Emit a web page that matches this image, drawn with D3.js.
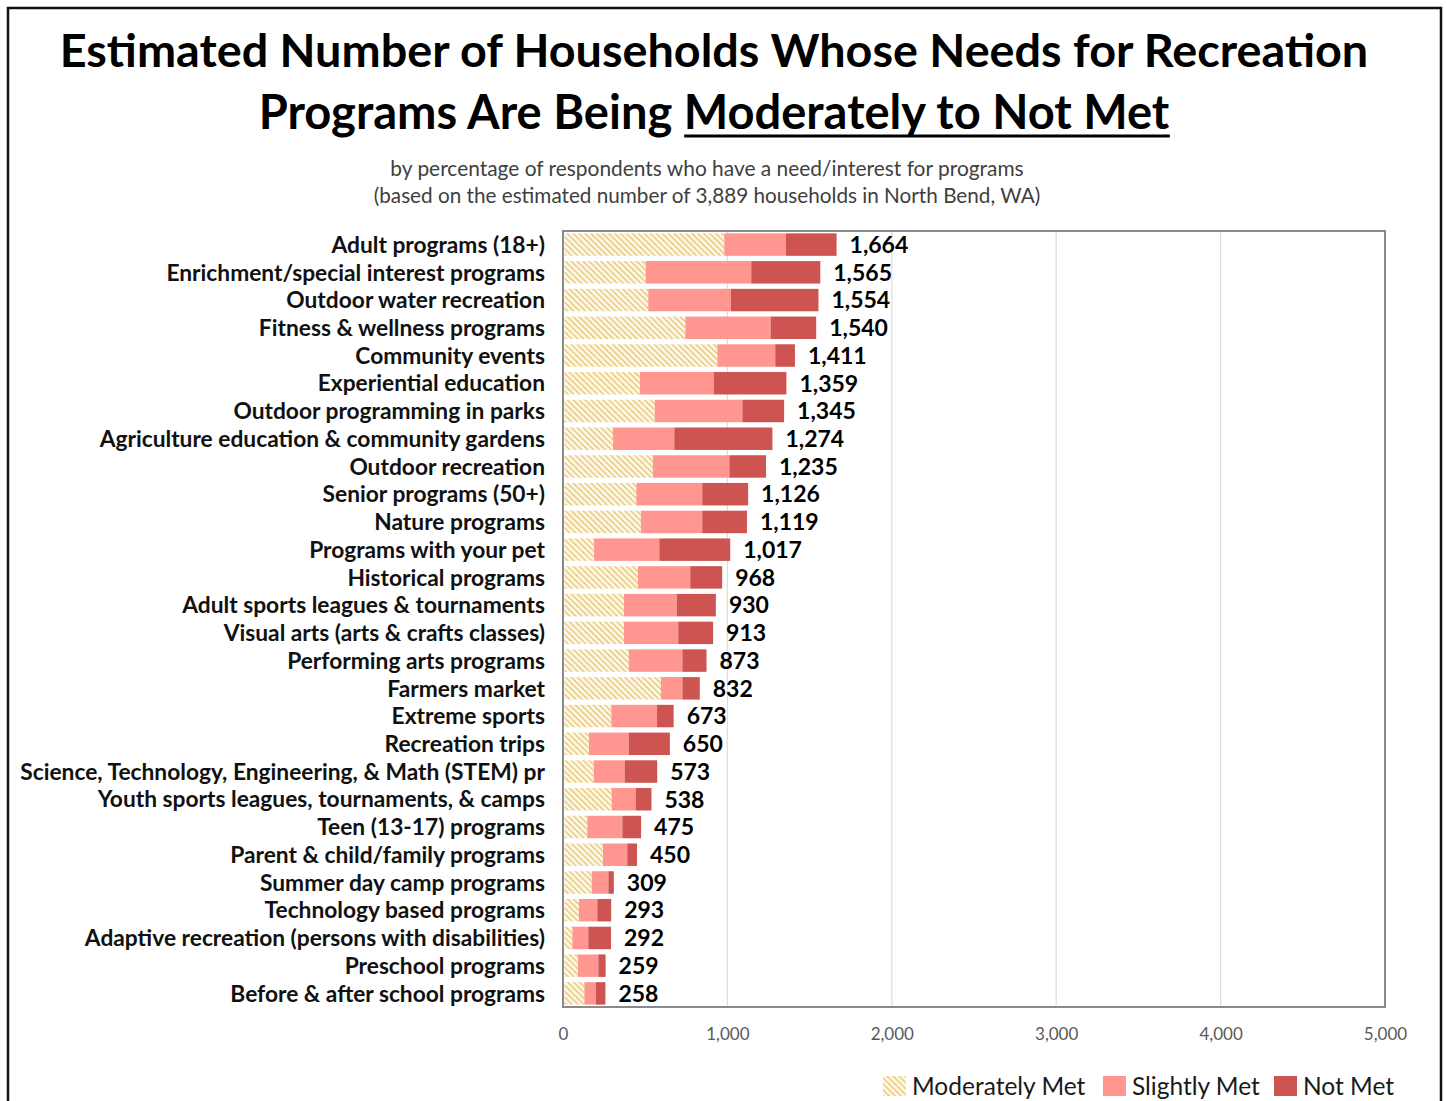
<!DOCTYPE html>
<html>
<head>
<meta charset="utf-8">
<script src="https://cdn.jsdelivr.net/npm/d3@7"></script>
<style>
  html, body { margin: 0; padding: 0; background: #fff; }
  svg { display: block; font-family: Lato, "Open Sans", sans-serif; }
</style>
</head>
<body>
<svg id="chart" width="1447" height="1101"></svg>
<script>
// Program categories, top to bottom
const categories = [
  "Adult programs (18+)",
  "Enrichment/special interest programs",
  "Outdoor water recreation",
  "Fitness & wellness programs",
  "Community events",
  "Experiential education",
  "Outdoor programming in parks",
  "Agriculture education & community gardens",
  "Outdoor recreation",
  "Senior programs (50+)",
  "Nature programs",
  "Programs with your pet",
  "Historical programs",
  "Adult sports leagues & tournaments",
  "Visual arts (arts & crafts classes)",
  "Performing arts programs",
  "Farmers market",
  "Extreme sports",
  "Recreation trips",
  "Science, Technology, Engineering, & Math (STEM) pr",
  "Youth sports leagues, tournaments, & camps",
  "Teen (13-17) programs",
  "Parent & child/family programs",
  "Summer day camp programs",
  "Technology based programs",
  "Adaptive recreation (persons with disabilities)",
  "Preschool programs",
  "Before & after school programs"
];

// Estimated households per level of need met
const moderatelyMet = [981, 503, 519, 744, 939, 468, 558, 304, 547, 446, 474, 189, 456, 371,
                       371, 401, 596, 294, 158, 187, 296, 148, 243, 175, 97, 57, 91, 130];
const slightlyMet   = [375, 642, 503, 519, 352, 449, 533, 373, 465, 401, 373, 397, 318, 321,
                       330, 325, 130, 278, 242, 188, 146, 213, 148, 101, 112, 97, 124, 69];
const notMet        = [308, 420, 532, 277, 120, 442, 254, 597, 223, 279, 272, 431, 194, 238,
                       212, 147, 106, 101, 250, 198, 96, 114, 59, 33, 84, 138, 44, 59];

const seriesNames = ["Moderately Met", "Slightly Met", "Not Met"];
const xTicks = [0, 1000, 2000, 3000, 4000, 5000];

const rows = categories.map((c, i) => ({
  category: c,
  "Moderately Met": moderatelyMet[i],
  "Slightly Met": slightlyMet[i],
  "Not Met": notMet[i]
}));

const svg = d3.select("#chart");
const fmt = d3.format(",");

// Hatched fill for the "moderately met" segment (lines running down to the right)
const defs = svg.append("defs");
const pat = defs.append("pattern")
  .attr("id", "hatch")
  .attr("patternUnits", "userSpaceOnUse")
  .attr("width", 4.2).attr("height", 4.2)
  .attr("patternTransform", "rotate(-45)");
pat.append("rect").attr("width", 4.2).attr("height", 4.2).attr("fill", "#fdf7e6");
pat.append("rect").attr("width", 1.6).attr("height", 4.2).attr("fill", "#ebcd85");

const fills = {
  "Moderately Met": "url(#hatch)",
  "Slightly Met": "#ff968f",
  "Not Met": "#cd5450"
};

// Scale font size of a text element so it spans a given width
function fitWidth(sel, width) {
  const node = sel.node();
  const fs = parseFloat(sel.attr("font-size"));
  const w = node.getComputedTextLength();
  sel.attr("font-size", fs * width / w);
}

// Outer frame
svg.append("rect")
  .attr("x", 8).attr("y", 8).attr("width", 1433).attr("height", 1110)
  .attr("fill", "none").attr("stroke", "#111").attr("stroke-width", 2.5);

// Title
const t1 = svg.append("text")
  .attr("x", 714).attr("y", 67).attr("text-anchor", "middle")
  .attr("font-size", 48).attr("font-weight", 700).attr("fill", "#000")
  .text("Estimated Number of Households Whose Needs for Recreation");
fitWidth(t1, 1309);

const t2 = svg.append("text")
  .attr("x", 714).attr("y", 129).attr("text-anchor", "middle")
  .attr("font-size", 48).attr("font-weight", 700).attr("fill", "#000");
t2.append("tspan").text("Programs Are Being ");
const t2u = t2.append("tspan").text("Moderately to Not Met");
fitWidth(t2, 911);

// Underline under the emphasised phrase
{
  const bb = t2.node().getBBox();
  const uw = t2u.node().getComputedTextLength();
  const right = bb.x + bb.width;
  svg.append("line")
    .attr("x1", right - uw).attr("x2", right)
    .attr("y1", 136).attr("y2", 136)
    .attr("stroke", "#000").attr("stroke-width", 3);
}

// Subtitle
const s1 = svg.append("text")
  .attr("x", 707).attr("y", 176).attr("text-anchor", "middle")
  .attr("font-size", 18).attr("fill", "#404040")
  .text("by percentage of respondents who have a need/interest for programs");
fitWidth(s1, 634);
const s2 = svg.append("text")
  .attr("x", 707).attr("y", 203).attr("text-anchor", "middle")
  .attr("font-size", 18).attr("fill", "#404040")
  .text("(based on the estimated number of 3,889 households in North Bend, WA)");
fitWidth(s2, 667);

// Plot area
const plot = { left: 563, right: 1385, top: 231, bottom: 1007 };

const x = d3.scaleLinear().domain([0, 5000]).range([plot.left, plot.right]);
const y = d3.scaleBand().domain(categories).range([plot.top, plot.bottom])
  .paddingInner(0.19).paddingOuter(0.085);

// Vertical gridlines
svg.append("g")
  .selectAll("line")
  .data(xTicks.slice(1, -1))
  .join("line")
  .attr("x1", d => x(d)).attr("x2", d => x(d))
  .attr("y1", plot.top).attr("y2", plot.bottom)
  .attr("stroke", "#dedede").attr("stroke-width", 1.2);

// Stacked bars
const stack = d3.stack().keys(seriesNames);
const layers = stack(rows);
const barStart = v => Math.max(x(v), plot.left + 1.5);

svg.append("g")
  .selectAll("g")
  .data(layers)
  .join("g")
  .attr("fill", d => fills[d.key])
  .selectAll("rect")
  .data(d => d)
  .join("rect")
  .attr("x", d => barStart(d[0]))
  .attr("y", d => y(d.data.category))
  .attr("width", d => x(d[1]) - barStart(d[0]))
  .attr("height", y.bandwidth());

// Plot border
svg.append("rect")
  .attr("x", plot.left).attr("y", plot.top)
  .attr("width", plot.right - plot.left).attr("height", plot.bottom - plot.top)
  .attr("fill", "none").attr("stroke", "#8a8a8a").attr("stroke-width", 2);

// Total labels
svg.append("g")
  .selectAll("text")
  .data(rows)
  .join("text")
  .attr("x", d => x(d["Moderately Met"] + d["Slightly Met"] + d["Not Met"]) + 13)
  .attr("y", d => y(d.category) + y.bandwidth() / 2)
  .attr("dy", "0.36em")
  .attr("font-size", 23).attr("font-weight", 700).attr("fill", "#000")
  .text(d => fmt(d["Moderately Met"] + d["Slightly Met"] + d["Not Met"]));

// Category labels
const catLabels = svg.append("g")
  .selectAll("text")
  .data(categories)
  .join("text")
  .attr("x", 545)
  .attr("y", d => y(d) + y.bandwidth() / 2)
  .attr("dy", "0.36em")
  .attr("text-anchor", "end")
  .attr("font-size", 20).attr("font-weight", 700).attr("fill", "#111")
  .text(d => d);
{
  const longest = d3.max(catLabels.nodes(), n => n.getComputedTextLength());
  catLabels.attr("font-size", 20 * 525 / longest);
}

// X axis
const xAxis = d3.axisBottom(x).tickValues(xTicks).tickFormat(fmt).tickSize(0).tickPadding(21);
const ax = svg.append("g")
  .attr("transform", `translate(0,${plot.bottom})`)
  .call(xAxis);
ax.select(".domain").remove();
ax.selectAll("text")
  .attr("font-family", "Lato, sans-serif")
  .attr("font-size", 17).attr("fill", "#595959");

// Legend
const legendItems = [
  { key: "Moderately Met", x: 883 },
  { key: "Slightly Met", x: 1103 },
  { key: "Not Met", x: 1274 }
];
const lg = svg.append("g");
legendItems.forEach(it => {
  lg.append("rect")
    .attr("x", it.x).attr("y", 1076)
    .attr("width", 23).attr("height", 20)
    .attr("fill", fills[it.key]);
  lg.append("text")
    .attr("x", it.x + 29).attr("y", 1086)
    .attr("dy", "0.36em")
    .attr("font-size", 24.5).attr("fill", "#1a1a1a")
    .text(it.key);
});
</script>
</body>
</html>
